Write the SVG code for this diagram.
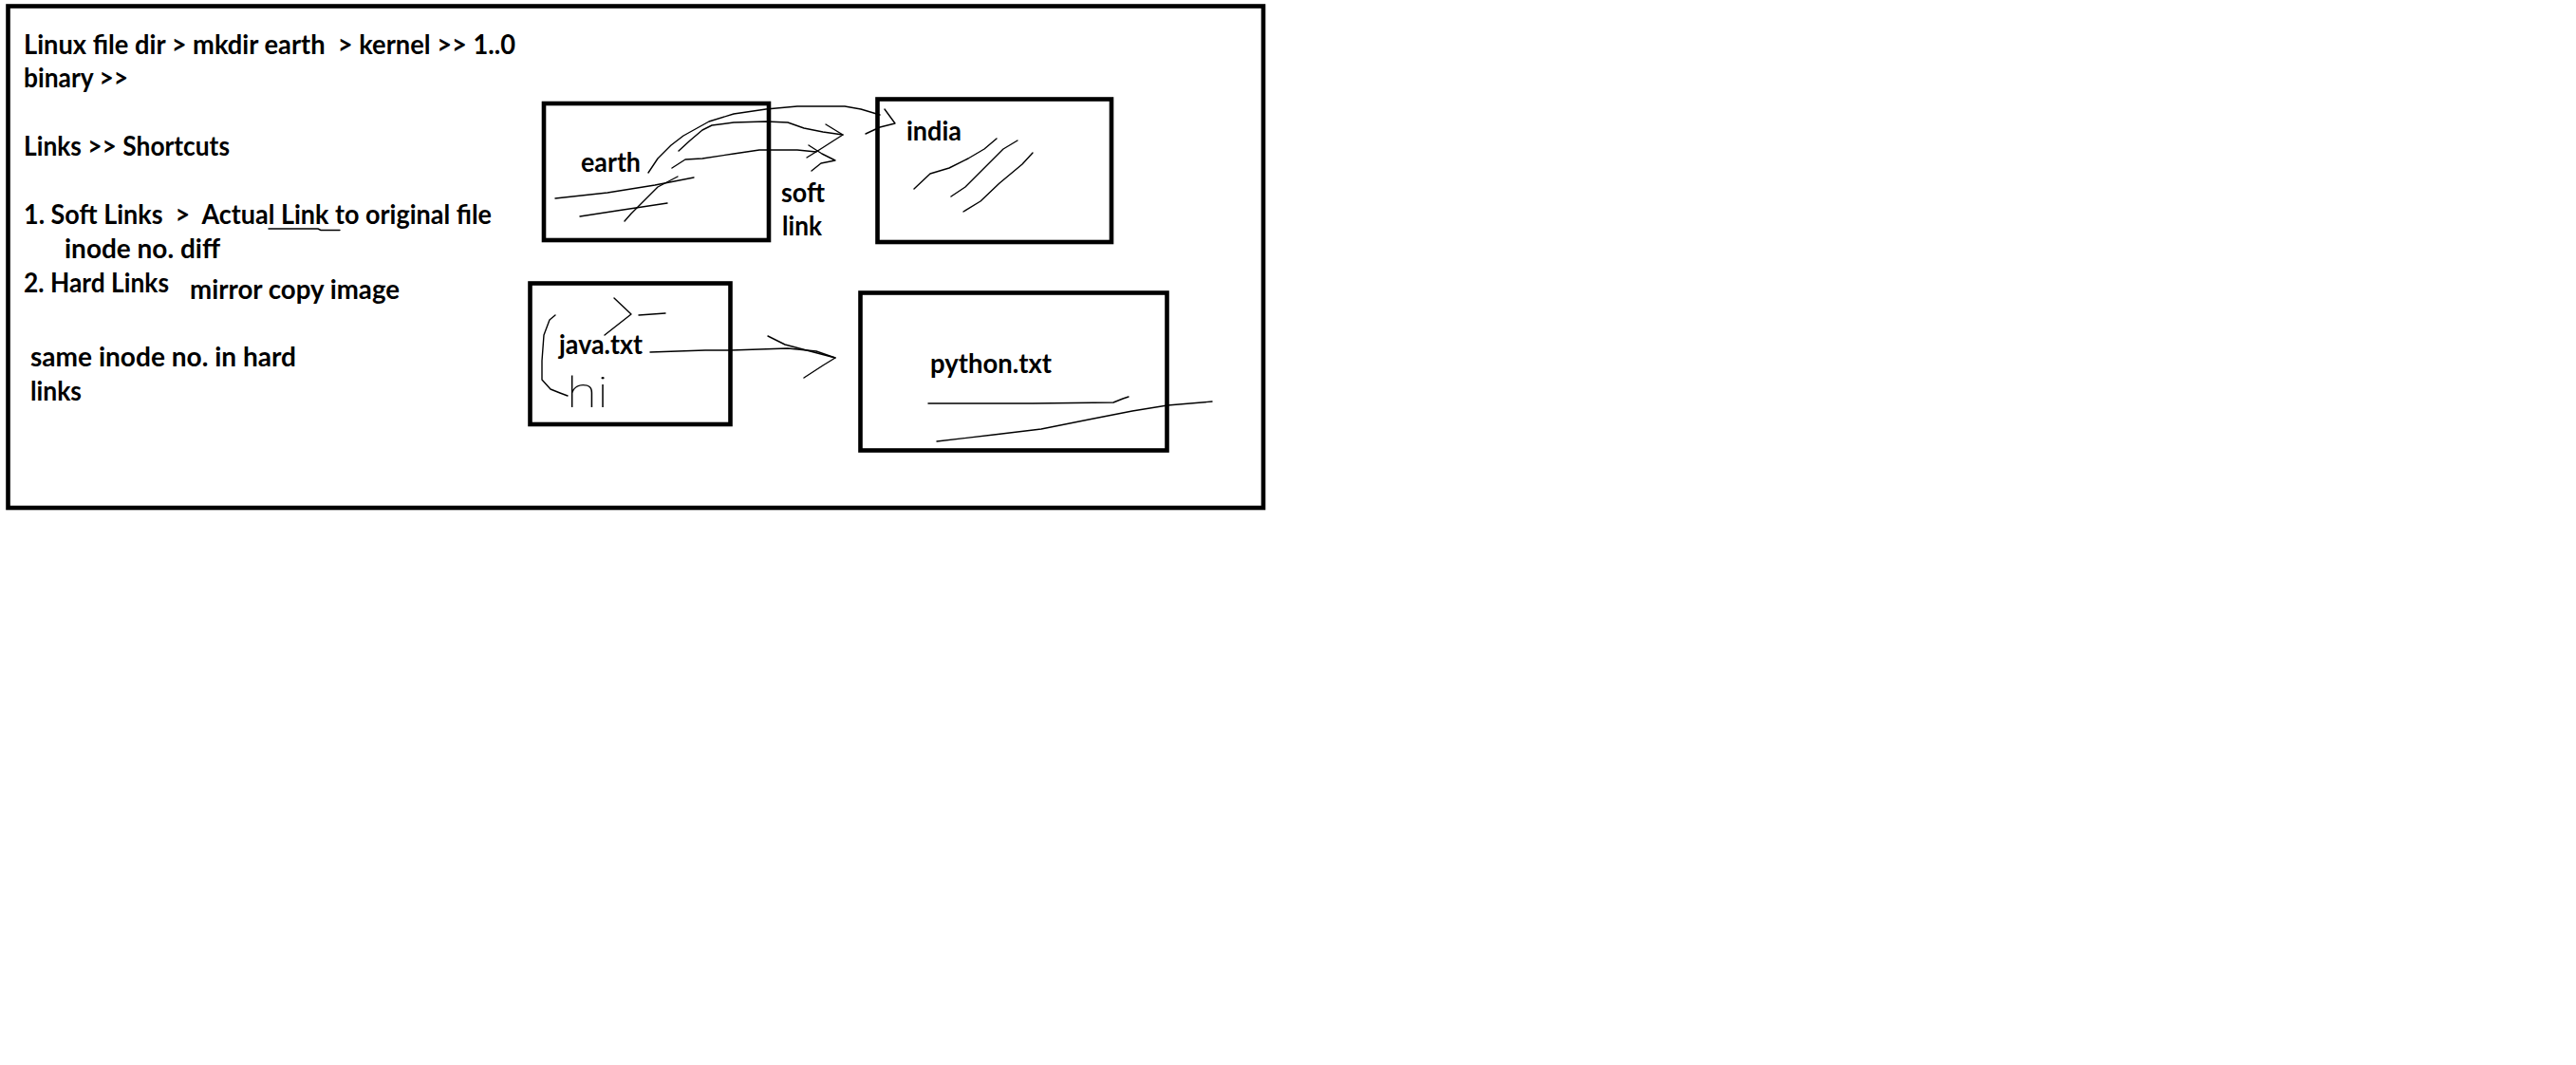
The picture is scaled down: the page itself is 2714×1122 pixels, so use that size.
<svg xmlns="http://www.w3.org/2000/svg" width="2714" height="1122" viewBox="0 0 2714 1122">
<style>
.t{font-family:Lato,"Liberation Sans",sans-serif;font-weight:700;font-size:28px;fill:#000;white-space:pre}
.box{fill:none;stroke:#000;stroke-width:4.6}
.pen{fill:none;stroke:#000;stroke-width:1.4;stroke-linejoin:round;stroke-linecap:round}
.hand{font-family:Roboto,"DejaVu Sans",sans-serif;font-weight:100;font-size:44px;fill:#000}
</style>
<rect x="0" y="0" width="2714" height="1122" fill="#fff"/>
<g id="frame"><rect class="box" x="8.5" y="6.5" width="1322.5" height="528.5"/></g>
<g id="notes">
<text class="t" x="25" y="57" textLength="518" lengthAdjust="spacingAndGlyphs" xml:space="preserve">Linux file dir &gt; mkdir earth  &gt; kernel &gt;&gt; 1..0</text>
<text class="t" x="25" y="92" textLength="110" lengthAdjust="spacingAndGlyphs">binary &gt;&gt;</text>
<text class="t" x="25" y="164" textLength="217" lengthAdjust="spacingAndGlyphs">Links &gt;&gt; Shortcuts</text>
<text class="t" x="25" y="236" textLength="493" lengthAdjust="spacingAndGlyphs" xml:space="preserve">1. Soft Links  &gt;  Actual Link to original file</text>
<path class="pen" d="M283,241 L335,241 L338,242.5 L358,242.5"/>
<text class="t" x="68" y="272" textLength="164" lengthAdjust="spacingAndGlyphs">inode no. diff</text>
<text class="t" x="25" y="308" textLength="153" lengthAdjust="spacingAndGlyphs">2. Hard Links</text>
<text class="t" x="200" y="315" textLength="221" lengthAdjust="spacingAndGlyphs">mirror copy image</text>
<text class="t" x="32" y="386" textLength="280" lengthAdjust="spacingAndGlyphs">same inode no. in hard</text>
<text class="t" x="32" y="422" textLength="54" lengthAdjust="spacingAndGlyphs">links</text>
</g>
<g id="node-earth">
<rect class="box" x="573" y="109" width="237" height="144"/>
<text class="t" x="612" y="181" textLength="63" lengthAdjust="spacingAndGlyphs">earth</text>
<path class="pen" d="M585,209 L640,203 L690,195 L731,187"/>
<path class="pen" d="M611,228 L650,222 L703,214"/>
<path class="pen" d="M658,233 L665,225 L673,217 L693,197 L714,186"/>
</g>
<g id="node-india">
<rect class="box" x="924.5" y="104.5" width="246.5" height="150.5"/>
<text class="t" x="955" y="148" textLength="58" lengthAdjust="spacingAndGlyphs">india</text>
<path class="pen" d="M963,199 L980,183 L1000,177 L1020,167 L1037,157 L1050,146"/>
<path class="pen" d="M1002,207 L1017,197 L1037,177 L1057,157 L1072,148"/>
<path class="pen" d="M1015,223 L1033,212 L1053,193 L1077,173 L1088,161"/>
</g>
<g id="node-java">
<rect class="box" x="558.5" y="298.5" width="211" height="148.5"/>
<text class="t" x="589" y="373" textLength="88" lengthAdjust="spacingAndGlyphs">java.txt</text>
<path class="pen" d="M647,314 L665,331 L637,353"/>
<path class="pen" d="M673,332 L701,330"/>
<path class="pen" d="M585,332 L579,337 L573,353 L571,380 L571,400 L580,410 L590,414 L598,417"/>
<text class="hand" x="597" y="429" textLength="44" lengthAdjust="spacingAndGlyphs">hi</text>
</g>
<g id="node-python">
<rect class="box" x="906.5" y="308.5" width="323" height="166"/>
<text class="t" x="980" y="393" textLength="128" lengthAdjust="spacingAndGlyphs">python.txt</text>
<path class="pen" d="M978,425 L1088,425 L1173,424 L1183,420 L1189,418"/>
<path class="pen" d="M987,465 L1047,458 L1097,452 L1147,442 L1193,433 L1230,427 L1277,423"/>
</g>
<g id="connectors">
<path class="pen" d="M683,182 L693,167 L707,153 L720,143 L747,128 L773,120 L807,115 L840,112 L890,112 L907,115 L927,121"/>
<path class="pen" d="M932,115 L943,130 L927,134 L912,141"/>
<path class="pen" d="M715,159 L727,148 L740,137 L750,132 L773,129 L807,128 L830,129 L847,135 L867,139 L888,142"/>
<path class="pen" d="M870,131 L888,142 L877,149 L863,158 L850,166"/>
<path class="pen" d="M708,177 L722,168 L740,167 L773,162 L800,158 L840,158 L860,160"/>
<path class="pen" d="M852,153 L866,162 L880,169 L865,172 L855,180"/>
<path class="pen" d="M685,371 L743,369 L770,369 L830,367 L860,370 L880,377"/>
<path class="pen" d="M809,354 L827,363 L880,377 L867,385 L847,398"/>
</g>
<text x="823" y="213" class="t" textLength="46" lengthAdjust="spacingAndGlyphs">soft</text>
<text x="824" y="248" class="t" textLength="42" lengthAdjust="spacingAndGlyphs">link</text>
</svg>
